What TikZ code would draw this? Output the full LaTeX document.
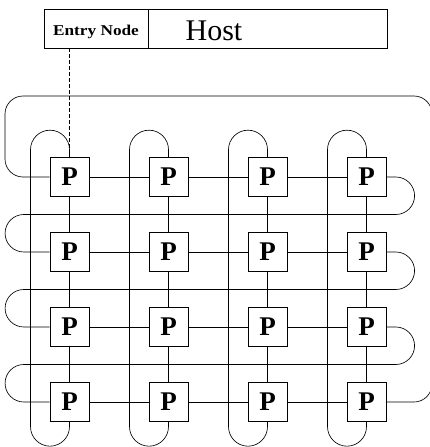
\documentclass[tikz,border=0pt]{standalone}
\usepackage{fontspec}
\setmainfont{Liberation Serif}
\begin{document}
\begin{tikzpicture}[x=1pt,y=1pt,line width=0.65pt,
  pe/.style={draw,minimum size=39pt,inner sep=0pt,font=\fontsize{27}{27}\selectfont\bfseries},
  hostbox/.style={draw,minimum height=39pt,inner sep=0pt},
  wire/.style={line width=0.65pt},
  entrylink/.style={dashed,dash pattern=on 4pt off 2pt,line width=0.6pt}]
\useasboundingbox (0,0) rectangle (430,-447);
\clip (0,0) rectangle (430,-447);
% host
\node[hostbox,minimum width=104pt,text height=14.4pt,text depth=0pt] (entry) at (96,-28.5)
  {\scalebox{1.15}[1]{\fontsize{15}{15}\selectfont\bfseries Entry Node}};
\node[hostbox,minimum width=239pt,anchor=west] (hostrect) at (entry.east) {};
\node[inner sep=0pt,text height=23pt,text depth=0pt,font=\fontsize{30}{30}\selectfont] (host) at (214,-28.5) {Host};
% processors
\foreach \i/\y in {1/177,2/252,3/327,4/402}
  \foreach \j/\x in {1/69.5,2/168.5,3/267.5,4/366.5}
    \node[pe] (p\i\j) at (\x,-\y) {P};
% row links
\foreach \i in {1,2,3,4}{
  \draw[wire] (p\i1) -- (p\i2);
  \draw[wire] (p\i2) -- (p\i3);
  \draw[wire] (p\i3) -- (p\i4);
}
% column links
\foreach \j in {1,2,3,4}{
  \draw[wire] (p1\j) -- (p2\j);
  \draw[wire] (p2\j) -- (p3\j);
  \draw[wire] (p3\j) -- (p4\j);
  \draw[wire] (p1\j.north) -- ++(0,7.5) arc[start angle=0,end angle=180,radius=19.5]
     -- ++(0,-277) arc[start angle=180,end angle=360,radius=19.5] -- (p4\j.south);
}
% row wrap-around (snake)
\foreach \i/\k in {1/2,2/3,3/4}{
  \draw[wire] (p\i4.east) -- ++(9.5,0) arc[start angle=90,end angle=-90,radius=18.75]
     -- ++(-372,0) arc[start angle=90,end angle=270,radius=18.75] -- (p\k1.west);
}
% outer loop
\draw[wire,rounded corners=18pt] (p44.east) -- (432,-402) -- (432,-96) -- (5,-96) -- (5,-177) -- (p11.west);
% entry link
\coordinate (entryfoot) at (entry.south -| p11.north);
\draw[entrylink] (entryfoot) -- (p11.north);
\end{tikzpicture}
\end{document}
